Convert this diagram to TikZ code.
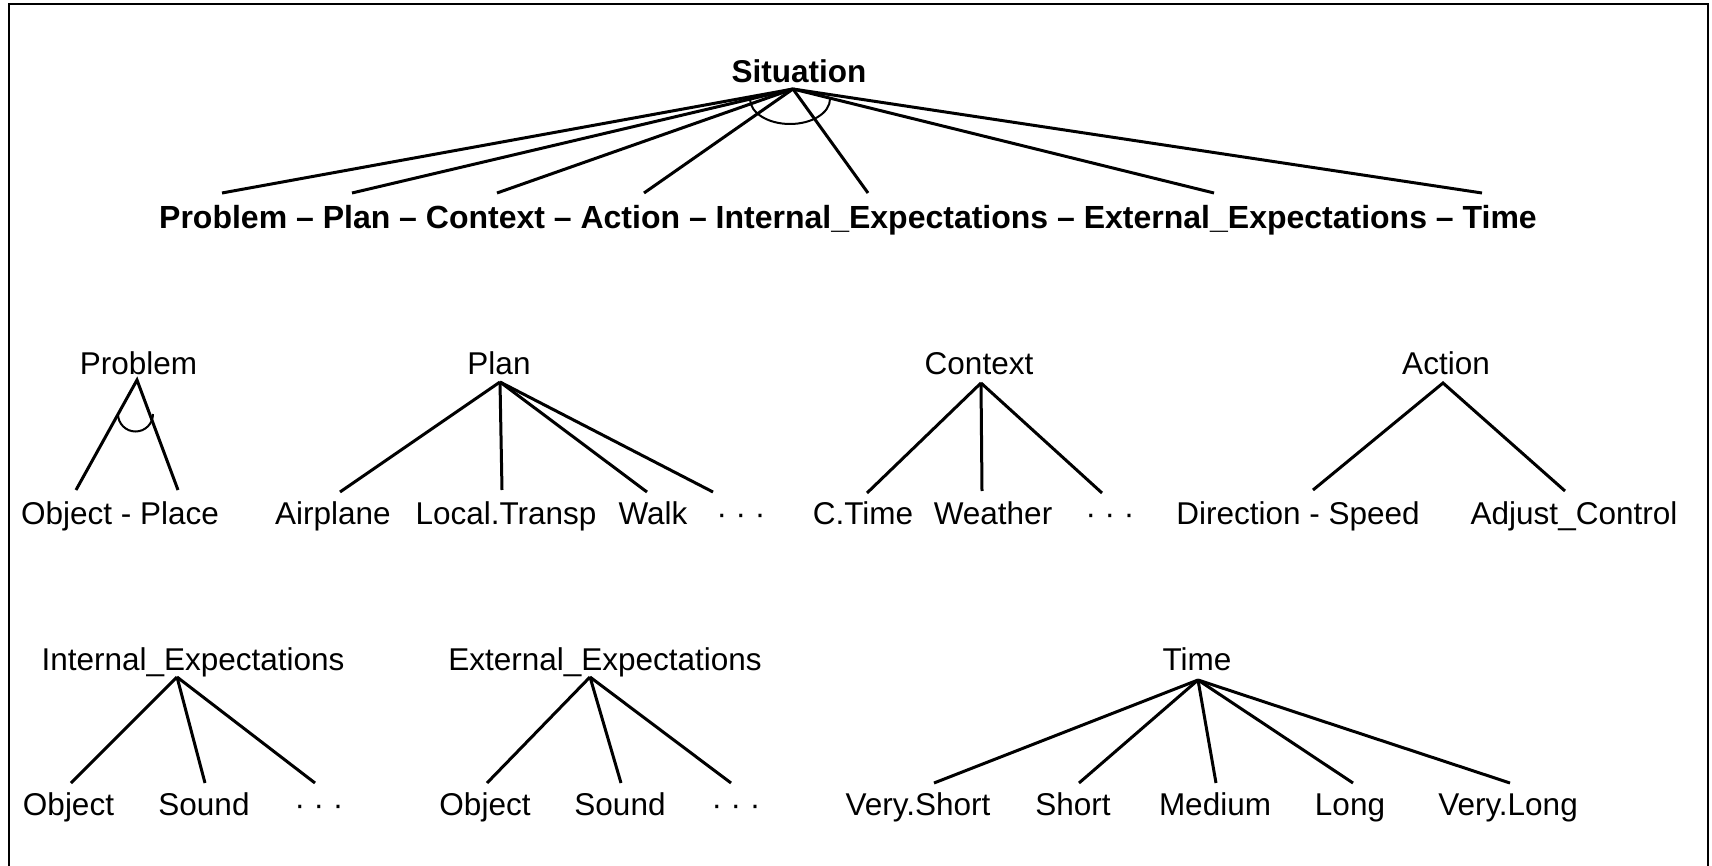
\documentclass[tikz,border=0pt]{standalone}
\usepackage{fontspec}
\setmainfont{Liberation Sans}
\usetikzlibrary{calc}

\tikzset{
	lbl/.style={anchor=base, inner sep=0pt, font=\fontsize{15.75}{19}\selectfont},
	hd/.style={anchor=base, inner sep=0pt, font=\fontsize{15.75}{19}\selectfont\bfseries},
	branch/.style={line width=1.5pt},
	andarc/.style={line width=1pt},
}

\begin{document}
\begin{tikzpicture}[x=0.5pt, y=-0.5pt]
			%%%%% START %%%%%
			\useasboundingbox (0,0) rectangle (1712,866);
			\draw[line width=1.25pt] (9,866) -- (9,4) -- (1708,4) -- (1708,866);
			
			% top level
			\node[hd] (situation) at (799,83) {Situation};
			\node[hd, font=\fontsize{16}{19}\selectfont\bfseries] (toprow) at (848,228) {Problem – Plan – Context – Action – Internal\_Expectations – External\_Expectations – Time};
			\coordinate (sit) at (793,89);
			\coordinate (sit-problem) at (222,193);
			\coordinate (sit-plan) at (352,193);
			\coordinate (sit-context) at (497,193);
			\coordinate (sit-action) at (644,193);
			\coordinate (sit-internal) at (868,193);
			\coordinate (sit-external) at (1214,193);
			\coordinate (sit-time) at (1482,193);
			\draw[branch] (sit) -- (sit-problem);
			\draw[branch] (sit) -- (sit-plan);
			\draw[branch] (sit) -- (sit-context);
			\draw[branch] (sit) -- (sit-action);
			\draw[branch] (sit) -- (sit-internal);
			\draw[branch] (sit) -- (sit-external);
			\draw[branch] (sit) -- (sit-time);
			\draw[andarc] (750,99) arc[start angle=180, end angle=360, x radius=20pt, y radius=12.5pt];
			
			% Problem
			\node[lbl] (problem) at (138.5,374) {Problem};
			\node[lbl] (objplace) at (120,524) {Object - Place};
			\coordinate (pb) at (137,380);
			\coordinate (pb-1) at (76,490);
			\coordinate (pb-2) at (178,490);
			\draw[branch] (pb-1) -- (pb) -- (pb-2);
			\draw[andarc] (118,414) arc[start angle=180, end angle=360, radius=8.75pt];
			
			% Plan
			\node[lbl] (plan) at (499,374) {Plan};
			\node[lbl] (airplane) at (333,524) {Airplane};
			\node[lbl] (localtr) at (506,524) {Local.Transp};
			\node[lbl] (walk) at (653,524) {Walk};
			\node[lbl] (pl-dots) at (741,524) {· · ·};
			\coordinate (pl) at (500,382);
			\coordinate (pl-1) at (340,492);
			\coordinate (pl-2) at (502,490);
			\coordinate (pl-3) at (647,492);
			\coordinate (pl-4) at (713,492);
			\draw[branch] (pl) -- (pl-1);
			\draw[branch] (pl) -- (pl-2);
			\draw[branch] (pl) -- (pl-3);
			\draw[branch] (pl) -- (pl-4);
			
			% Context
			\node[lbl] (context) at (979,374) {Context};
			\node[lbl] (ctime) at (863,524) {C.Time};
			\node[lbl] (weather) at (993,524) {Weather};
			\node[lbl] (ct-dots) at (1110,524) {· · ·};
			\coordinate (ct) at (981,383);
			\coordinate (ct-1) at (867,493);
			\coordinate (ct-2) at (982,491);
			\coordinate (ct-3) at (1102,493);
			\draw[branch] (ct) -- (ct-1);
			\draw[branch] (ct) -- (ct-2);
			\draw[branch] (ct) -- (ct-3);
			
			% Action
			\node[lbl] (action) at (1446,374) {Action};
			\node[lbl] (dirspeed) at (1298,524) {Direction - Speed};
			\node[lbl] (adjust) at (1574,524) {Adjust\_Control};
			\coordinate (ac) at (1443,383);
			\coordinate (ac-1) at (1313,490);
			\coordinate (ac-2) at (1565,491);
			\draw[branch] (ac-1) -- (ac) -- (ac-2);
			
			% Internal_Expectations
			\node[lbl] (internal) at (193,670) {Internal\_Expectations};
			\node[lbl] (in-object) at (68.5,815) {Object};
			\node[lbl] (in-sound) at (204,815) {Sound};
			\node[lbl] (in-dots) at (319,815) {· · ·};
			\coordinate (ie) at (177,677);
			\coordinate (ie-1) at (71,783);
			\coordinate (ie-2) at (205,783);
			\coordinate (ie-3) at (315,783);
			\draw[branch] (ie) -- (ie-1);
			\draw[branch] (ie) -- (ie-2);
			\draw[branch] (ie) -- (ie-3);
			
			% External_Expectations
			\node[lbl] (external) at (605,670) {External\_Expectations};
			\node[lbl] (ex-object) at (485,815) {Object};
			\node[lbl] (ex-sound) at (620,815) {Sound};
			\node[lbl] (ex-dots) at (736,815) {· · ·};
			\coordinate (ee) at (590,677);
			\coordinate (ee-1) at (487,783);
			\coordinate (ee-2) at (621,783);
			\coordinate (ee-3) at (731,783);
			\draw[branch] (ee) -- (ee-1);
			\draw[branch] (ee) -- (ee-2);
			\draw[branch] (ee) -- (ee-3);
			
			% Time
			\node[lbl] (time) at (1197,670) {Time};
			\node[lbl] (vshort) at (918,815) {Very.Short};
			\node[lbl] (short) at (1073,815) {Short};
			\node[lbl] (medium) at (1215,815) {Medium};
			\node[lbl] (long) at (1350,815) {Long};
			\node[lbl] (vlong) at (1508,815) {Very.Long};
			\coordinate (tm) at (1198,680);
			\coordinate (tm-1) at (934,783);
			\coordinate (tm-2) at (1079,783);
			\coordinate (tm-3) at (1216,783);
			\coordinate (tm-4) at (1353,783);
			\coordinate (tm-5) at (1510,783);
			\draw[branch] (tm) -- (tm-1);
			\draw[branch] (tm) -- (tm-2);
			\draw[branch] (tm) -- (tm-3);
			\draw[branch] (tm) -- (tm-4);
			\draw[branch] (tm) -- (tm-5);
			%%%%% END %%%%%
\end{tikzpicture}
\end{document}
